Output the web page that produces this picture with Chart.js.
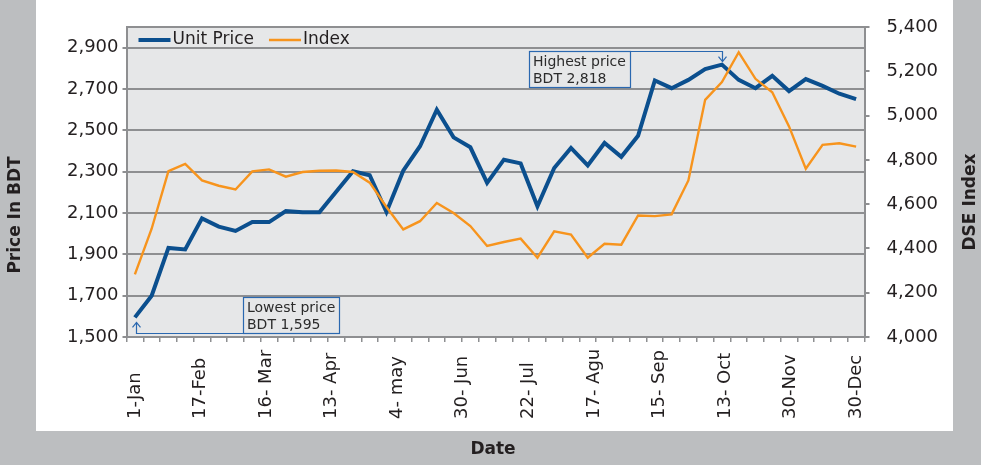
<!DOCTYPE html>
<html>
<head>
<meta charset="utf-8">
<script src="https://cdn.jsdelivr.net/npm/chart.js@4.4.1/dist/chart.umd.min.js"></script>
<style>
  body { margin: 0; background: #bcbec0; }
  canvas { display: block; }
</style>
</head>
<body>
<canvas id="myChart" width="981" height="465"></canvas>
<script>
// weekly values
var unitPrice = [1595, 1700, 1931, 1924, 2074, 2034, 2013, 2056, 2056, 2109, 2104, 2104,
    2203, 2302, 2283, 2105, 2305, 2423, 2600, 2466, 2418, 2246, 2358, 2340,
    2133, 2318, 2415, 2330, 2439, 2372, 2474, 2741, 2704, 2744, 2796, 2818,
    2744, 2704, 2764, 2690, 2748, 2715, 2677, 2651];
var dseIndex = [4283, 4489, 4749, 4782, 4707, 4683, 4666, 4748, 4757, 4724, 4745, 4751,
    4752, 4745, 4697, 4587, 4486, 4523, 4605, 4560, 4501, 4411, 4429, 4444,
    4358, 4477, 4463, 4358, 4421, 4417, 4549, 4546, 4554, 4707, 5071, 5151,
    5286, 5166, 5105, 4951, 4760, 4868, 4875, 4860];
var dateLabels = ['1-Jan', '17-Feb', '16- Mar', '13- Apr', '4- may', '30- Jun',
    '22- Jul', '17- Agu', '15- Sep', '13- Oct', '30-Nov', '30-Dec'];
var priceTicks = [1500, 1700, 1900, 2100, 2300, 2500, 2700, 2900];
var indexTicks = [4000, 4200, 4400, 4600, 4800, 5000, 5200, 5400];

var gridColor = '#8e8f91';
var textColor = '#231f20';
var noteColor = '#2a68b0';
Chart.defaults.font.family = 'DejaVu Sans';

function fmt(v) {
    return v.toLocaleString('en-US');
}

function drawNote(c, lines, left, top) {
    c.font = '14px "DejaVu Sans"';
    var w = 0;
    lines.forEach(function (t) { w = Math.max(w, c.measureText(t).width); });
    var bw = Math.round(w + 8);
    c.strokeStyle = noteColor;
    c.lineWidth = 1.2;
    c.strokeRect(Math.round(left) + 0.5, Math.round(top) + 0.5, bw, 36);
    c.fillStyle = '#2b2b2b';
    c.textAlign = 'left';
    c.textBaseline = 'alphabetic';
    c.fillText(lines[0], left + 4, top + 14.5);
    c.fillText(lines[1], left + 4, top + 31.5);
    return bw;
}

var framePlugin = {
    id: 'frame',
    beforeDraw: function (chart) {
        var c = chart.ctx, a = chart.chartArea;
        c.save();
        c.fillStyle = '#bcbec0';
        c.fillRect(0, 0, chart.width, chart.height);
        c.fillStyle = '#ffffff';
        c.fillRect(36, 0, 917, 431);
        c.fillStyle = '#e6e7e8';
        c.fillRect(a.left, a.top, a.right - a.left, a.bottom - a.top);
        c.restore();
    },
    beforeDatasetsDraw: function (chart) {
        var c = chart.ctx, a = chart.chartArea;
        c.save();
        c.strokeStyle = gridColor;
        c.lineWidth = 2;
        c.beginPath();
        c.moveTo(a.left, a.top);
        c.lineTo(a.right, a.top);
        c.stroke();
        c.restore();
    },
    afterDraw: function (chart) {
        var c = chart.ctx, a = chart.chartArea;
        var xs = chart.scales.x, yp = chart.scales.y;
        c.save();

        // legend inside the plot
        c.font = '17px "DejaVu Sans"';
        c.textBaseline = 'middle';
        c.textAlign = 'left';
        var lx = a.left + 12, ly = a.top + 13;
        chart.data.datasets.forEach(function (ds) {
            c.strokeStyle = ds.borderColor;
            c.lineWidth = ds.borderWidth;
            c.beginPath();
            c.moveTo(lx, ly);
            c.lineTo(lx + 32, ly);
            c.stroke();
            c.fillStyle = textColor;
            c.fillText(ds.label, lx + 34, ly);
            lx += 34 + c.measureText(ds.label).width + 15;
        });

        // date labels, rotated, starting at the bottom
        c.font = '18px "DejaVu Sans"';
        c.fillStyle = textColor;
        var n = unitPrice.length;
        dateLabels.forEach(function (t, k) {
            var px = xs.getPixelForValue(k * (n - 1) / (dateLabels.length - 1));
            c.save();
            c.translate(px, 419);
            c.rotate(-Math.PI / 2);
            c.textAlign = 'left';
            c.textBaseline = 'middle';
            c.fillText(t, 0, 0);
            c.restore();
        });

        // axis titles
        c.font = 'bold 17px "DejaVu Sans"';
        c.textAlign = 'center';
        c.textBaseline = 'middle';
        c.save();
        c.translate(16, 215);
        c.rotate(-Math.PI / 2);
        c.fillText('Price In BDT', 0, 0);
        c.restore();
        c.save();
        c.translate(971, 202);
        c.rotate(-Math.PI / 2);
        c.fillText('DSE Index', 0, 0);
        c.restore();
        c.fillText('Date', 493, 450);

        // highest / lowest notes
        var hi = unitPrice.indexOf(Math.max.apply(null, unitPrice));
        var lo = unitPrice.indexOf(Math.min.apply(null, unitPrice));
        var hx = xs.getPixelForValue(hi), hy = yp.getPixelForValue(unitPrice[hi]);
        var bx = xs.getPixelForValue(lo), by = yp.getPixelForValue(unitPrice[lo]);

        c.font = '14px "DejaVu Sans"';
        var hw = Math.round(c.measureText('Highest price').width + 8);
        var hRight = Math.round(hx - 92);
        var hTop = Math.round(hy - 14);
        drawNote(c, ['Highest price', 'BDT ' + fmt(unitPrice[hi])], hRight - hw, hTop);
        c.strokeStyle = noteColor;
        c.lineWidth = 1.2;
        var ax = Math.round(hx) + 0.5;
        c.beginPath();
        c.moveTo(hRight, hTop + 0.5);
        c.lineTo(ax, hTop + 0.5);
        c.lineTo(ax, hy - 3);
        c.moveTo(ax - 4, hy - 8);
        c.lineTo(ax, hy - 3);
        c.lineTo(ax + 4, hy - 8);
        c.stroke();

        var lLeft = Math.round(bx + 108);
        var lTop = Math.round(by - 20);
        drawNote(c, ['Lowest price', 'BDT ' + fmt(unitPrice[lo])], lLeft, lTop);
        var bxl = Math.round(bx + 1) + 0.5;
        c.strokeStyle = noteColor;
        c.lineWidth = 1.2;
        c.beginPath();
        c.moveTo(lLeft, lTop + 36.5);
        c.lineTo(bxl, lTop + 36.5);
        c.lineTo(bxl, by + 5);
        c.moveTo(bxl - 4, by + 10);
        c.lineTo(bxl, by + 5);
        c.lineTo(bxl + 4, by + 10);
        c.stroke();

        c.restore();
    }
};

var ctx = document.getElementById('myChart').getContext('2d');
var myChart = new Chart(ctx, {
    type: 'line',
    data: {
        labels: unitPrice.map(function () { return ''; }),
        datasets: [{
            label: 'Unit Price',
            data: unitPrice,
            yAxisID: 'y',
            borderColor: '#0b4f8e',
            borderWidth: 4,
            pointRadius: 0,
            tension: 0,
            order: 2
        }, {
            label: 'Index',
            data: dseIndex,
            yAxisID: 'y1',
            borderColor: '#f7941d',
            borderWidth: 2.4,
            pointRadius: 0,
            tension: 0,
            order: 1
        }]
    },
    options: {
        responsive: false,
        animation: false,
        layout: { padding: { top: 27, left: 0, right: 0, bottom: 0 } },
        plugins: {
            legend: { display: false },
            tooltip: { enabled: false }
        },
        scales: {
            x: {
                type: 'category',
                offset: true,
                grid: { offset: true, drawOnChartArea: false, tickLength: 5, color: gridColor, lineWidth: 1.5 },
                border: { color: gridColor, width: 2 },
                ticks: { display: false, autoSkip: false },
                afterFit: function (s) { s.height = 128; s.paddingLeft = 0; s.paddingRight = 0; }
            },
            y: {
                position: 'left',
                min: 1500,
                max: 3000,
                afterBuildTicks: function (s) {
                    s.ticks = priceTicks.map(function (v) { return { value: v }; });
                },
                ticks: {
                    color: textColor,
                    font: { size: 18 },
                    padding: 4,
                    callback: function (v) { return fmt(v); }
                },
                grid: { color: gridColor, lineWidth: 2, tickLength: 4 },
                border: { color: gridColor, width: 2 },
                afterFit: function (s) { s.width = 126.5; s.paddingTop = 0; s.paddingBottom = 0; }
            },
            y1: {
                position: 'right',
                min: 4000,
                max: 5400,
                afterBuildTicks: function (s) {
                    s.ticks = indexTicks.map(function (v) { return { value: v }; });
                },
                ticks: {
                    color: textColor,
                    font: { size: 18 },
                    padding: 17,
                    callback: function (v) { return fmt(v); }
                },
                grid: { drawOnChartArea: false, color: gridColor, lineWidth: 2, tickLength: 5 },
                border: { color: gridColor, width: 2 },
                afterFit: function (s) { s.width = 116.5; s.paddingTop = 0; s.paddingBottom = 0; }
            }
        }
    },
    plugins: [framePlugin]
});
</script>
</body>
</html>
